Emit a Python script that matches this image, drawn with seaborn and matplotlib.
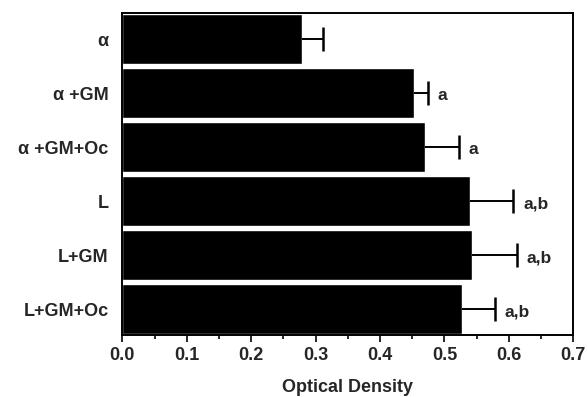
import numpy as np
import pandas as pd
import matplotlib
matplotlib.use("Agg")
import matplotlib.pyplot as plt
import seaborn as sns
from matplotlib.ticker import MultipleLocator

# values
groups = ["\u03b1", "\u03b1 +GM", "\u03b1 +GM+Oc", "L", "L+GM", "L+GM+Oc"]
density = [0.279, 0.453, 0.470, 0.540, 0.542, 0.528]
sem = [0.033, 0.021, 0.053, 0.067, 0.071, 0.050]
letters = ["", "a", "a", "a,b", "a,b", "a,b"]

sns.set_style("ticks")
plt.rcParams['font.family'] = ['Liberation Sans', 'DejaVu Sans']

df = pd.DataFrame({'Group': groups, 'Density': density})

fig = plt.figure(figsize=(5.88, 3.97), dpi=100)
ax = fig.add_axes([0.208, 0.156, 0.767, 0.811])

sns.barplot(data=df, y='Group', x='Density', orient='h', color='black',
            width=0.93, errorbar=None, saturation=1, ax=ax)

# one-sided error bars, cap only at the outer end
ypos = np.arange(len(groups))
tips = np.array(density) + np.array(sem)
ax.hlines(ypos, density, tips, color='black', linewidth=1.4)
ax.plot(tips, ypos, linestyle='none', marker='|', markersize=17,
        markeredgewidth=1.8, color='black')

for y, t, lab in zip(ypos, tips, letters):
    if lab:
        ax.text(t + 0.015, y + 0.05, lab, va='center', ha='left',
                fontsize=12.5, fontweight='bold')

ax.set_xlim(0, 0.7)
ax.set_ylim(5.48, -0.48)
ax.xaxis.set_major_locator(MultipleLocator(0.1))
ax.xaxis.set_minor_locator(MultipleLocator(0.05))
ax.set_xticks(np.arange(0, 0.71, 0.1))
ax.set_xticklabels([f"{v:.1f}" for v in np.arange(0, 0.71, 0.1)],
                   fontsize=13, fontweight='bold')
ax.tick_params(axis='x', which='major', direction='out', length=5, width=1.4)
ax.tick_params(axis='x', which='minor', direction='out', length=3, width=1.4)
ax.tick_params(axis='y', length=0, pad=10)
for lbl in ax.get_yticklabels():
    lbl.set_fontsize(13)
    lbl.set_fontweight('bold')
ax.set_ylabel('')
ax.set_xlabel('Optical Density', fontsize=13, fontweight='bold', labelpad=11)

for s in ax.spines.values():
    s.set_visible(True)
    s.set_linewidth(1.4)
    s.set_color('black')

fig.savefig('out.png', dpi=100)
